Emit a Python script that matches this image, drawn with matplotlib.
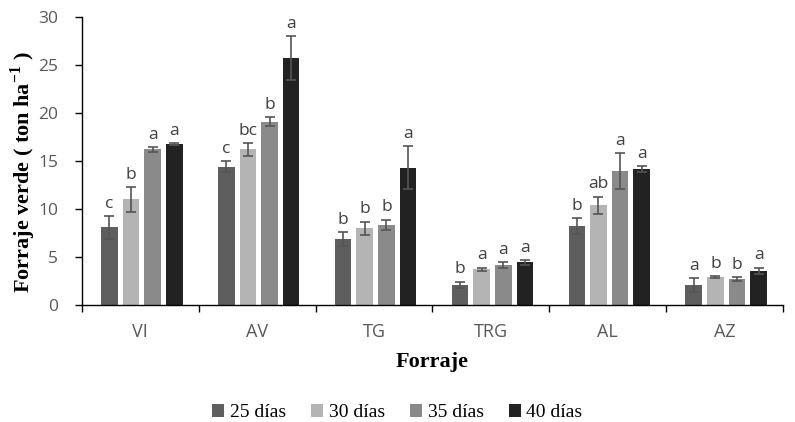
#!/usr/bin/env python3
"""Forraje verde por especie y edad de corte, barras agrupadas con error."""

import matplotlib

matplotlib.use("Agg")

import matplotlib.pyplot as plt
import numpy as np


FORRAJES = ["VI", "AV", "TG", "TRG", "AL", "AZ"]
SERIES = ["25 días", "30 días", "35 días", "40 días"]

# medias (ton/ha) por edad de corte, en el orden de FORRAJES
dias_25 = [8.1, 14.4, 6.9, 2.1, 8.2, 2.1]
dias_30 = [11.0, 16.2, 8.0, 3.75, 10.4, 2.9]
dias_35 = [16.2, 19.1, 8.35, 4.15, 13.95, 2.7]
dias_40 = [16.8, 25.7, 14.3, 4.45, 14.15, 3.55]

# error estandar
err_25 = [1.2, 0.55, 0.7, 0.35, 0.85, 0.75]
err_30 = [1.3, 0.7, 0.7, 0.15, 0.9, 0.1]
err_35 = [0.25, 0.45, 0.55, 0.3, 1.85, 0.2]
err_40 = [0.1, 2.3, 2.25, 0.25, 0.3, 0.35]

# letras de comparacion de medias
letras_25 = ["c", "c", "b", "b", "b", "a"]
letras_30 = ["b", "bc", "b", "a", "ab", "b"]
letras_35 = ["a", "b", "b", "a", "a", "b"]
letras_40 = ["a", "a", "a", "a", "a", "a"]

COLORS = ["#5e5e5e", "#b4b4b4", "#8a8a8a", "#222222"]


def main() -> None:
    plt.rcParams["font.family"] = ["Open Sans", "DejaVu Sans"]
    plt.rcParams["mathtext.fontset"] = "custom"
    plt.rcParams["mathtext.rm"] = "Liberation Serif"
    plt.rcParams["mathtext.bf"] = "Liberation Serif:bold"
    serif = ["Liberation Serif", "DejaVu Serif"]

    fig = plt.figure(figsize=(7.95, 4.22), dpi=100)
    ax = fig.add_axes([0.103, 0.277, 0.882, 0.683])

    medias = [dias_25, dias_30, dias_35, dias_40]
    errores = [err_25, err_30, err_35, err_40]
    letras = [letras_25, letras_30, letras_35, letras_40]

    x = np.arange(len(FORRAJES))
    pitch = 0.185
    width = 0.142
    offsets = (np.arange(len(SERIES)) - 1.5) * pitch + 0.013

    for i, name in enumerate(SERIES):
        xs = x + offsets[i]
        ax.bar(xs, medias[i], width=width, color=COLORS[i], label=name, zorder=2)
        ax.errorbar(
            xs,
            medias[i],
            yerr=errores[i],
            fmt="none",
            ecolor="#555555",
            elinewidth=1.2,
            capsize=3.5,
            capthick=1.2,
            zorder=3,
        )
        for xi, m, e, t in zip(xs, medias[i], errores[i], letras[i]):
            ax.annotate(
                t,
                (xi, m + e),
                xytext=(0, 3),
                textcoords="offset points",
                ha="center",
                va="bottom",
                fontsize=12.5,
                color="#404040",
            )

    ax.set_xlim(-0.5, len(FORRAJES) - 0.5)
    ax.set_ylim(0, 30)
    ax.set_yticks(np.arange(0, 31, 5))
    ax.set_xticks(x)
    ax.set_xticklabels(FORRAJES)
    ax.set_xticks(np.arange(-0.5, len(FORRAJES), 1.0), minor=True)
    ax.tick_params(axis="x", which="major", length=0, pad=13, labelsize=13, labelcolor="#595959")
    ax.tick_params(axis="x", which="minor", length=5, width=1.0, direction="out")
    ax.tick_params(axis="y", length=5, width=1.0, pad=12, labelsize=12.5, labelcolor="#595959")

    for side in ("top", "right"):
        ax.spines[side].set_visible(False)
    for side in ("left", "bottom"):
        ax.spines[side].set_color("#000000")
        ax.spines[side].set_linewidth(1.0)

    ax.set_ylabel(
        r"Forraje verde ( ton ha$^{\mathbf{-1}}$ )",
        family=serif,
        fontweight="bold",
        fontsize=16,
    )
    ax.yaxis.set_label_coords(-0.063, 0.46)
    ax.set_xlabel("Forraje", family=serif, fontweight="bold", fontsize=16, labelpad=8)

    handles, labels = ax.get_legend_handles_labels()
    fig.legend(
        handles,
        labels,
        loc="center",
        bbox_to_anchor=(0.5, 0.022),
        ncol=4,
        frameon=False,
        prop={"family": serif, "size": 14},
        handlelength=0.6,
        handleheight=0.6,
        handletextpad=0.3,
        columnspacing=1.3,
    )

    fig.savefig("out.png", dpi=100, facecolor="white")
    plt.close(fig)


if __name__ == "__main__":
    main()
